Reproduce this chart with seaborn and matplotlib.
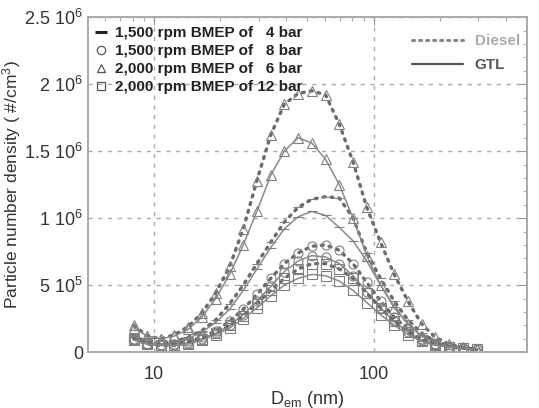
import numpy as np
import pandas as pd
import seaborn as sns
import matplotlib.pyplot as plt
from matplotlib.lines import Line2D

# mobility diameter channels (nm)
diam = [8.1, 9.3, 10.8, 12.4, 14.3, 16.5, 19.1, 22.1, 25.5, 29.4, 34.0, 39.2, 45.3,
        52.3, 60.4, 69.8, 80.6, 93.1, 107.5, 124.1, 143.3, 165.5, 191.1, 220.7, 254.8, 294.2]

# number densities, units of 1e6 #/cm3
diesel_1500_4 = [0.12, 0.08, 0.07, 0.08, 0.11, 0.16, 0.24, 0.36, 0.50, 0.66, 0.82, 0.97, 1.08,
                 1.14, 1.16, 1.15, 1.00, 0.74, 0.55, 0.38, 0.24, 0.14, 0.08, 0.05, 0.03, 0.02]
gtl_1500_4 = [0.11, 0.07, 0.06, 0.07, 0.10, 0.15, 0.22, 0.32, 0.46, 0.62, 0.78, 0.92, 1.01,
              1.05, 1.02, 0.93, 0.83, 0.68, 0.50, 0.34, 0.21, 0.12, 0.07, 0.04, 0.03, 0.02]
diesel_1500_8 = [0.10, 0.06, 0.05, 0.06, 0.08, 0.11, 0.16, 0.23, 0.32, 0.43, 0.55, 0.66, 0.74,
                 0.79, 0.80, 0.76, 0.66, 0.52, 0.38, 0.26, 0.17, 0.10, 0.06, 0.04, 0.03, 0.02]
gtl_1500_8 = [0.09, 0.06, 0.05, 0.05, 0.07, 0.10, 0.14, 0.20, 0.28, 0.38, 0.49, 0.60, 0.68,
              0.72, 0.71, 0.66, 0.57, 0.45, 0.33, 0.23, 0.15, 0.09, 0.06, 0.04, 0.03, 0.02]
diesel_2000_6 = [0.20, 0.12, 0.10, 0.13, 0.19, 0.29, 0.44, 0.64, 0.92, 1.28, 1.62, 1.85, 1.93,
                 1.95, 1.92, 1.70, 1.42, 1.08, 0.82, 0.58, 0.38, 0.21, 0.11, 0.06, 0.035, 0.02]
gtl_2000_6 = [0.18, 0.12, 0.10, 0.12, 0.17, 0.26, 0.40, 0.58, 0.80, 1.05, 1.32, 1.50, 1.60,
              1.56, 1.44, 1.25, 1.00, 0.72, 0.50, 0.33, 0.21, 0.12, 0.07, 0.04, 0.03, 0.02]
diesel_2000_12 = [0.10, 0.07, 0.05, 0.05, 0.07, 0.10, 0.14, 0.20, 0.27, 0.36, 0.46, 0.55, 0.62,
                  0.66, 0.66, 0.62, 0.55, 0.44, 0.33, 0.23, 0.15, 0.09, 0.06, 0.04, 0.03, 0.02]
gtl_2000_12 = [0.09, 0.06, 0.05, 0.05, 0.06, 0.09, 0.13, 0.18, 0.25, 0.33, 0.42, 0.50, 0.55,
               0.58, 0.57, 0.53, 0.46, 0.37, 0.28, 0.20, 0.13, 0.08, 0.05, 0.04, 0.03, 0.02]

conditions = ["1,500 rpm BMEP of   4 bar", "1,500 rpm BMEP of   8 bar",
              "2,000 rpm BMEP of   6 bar", "2,000 rpm BMEP of 12 bar"]
markers = ["_", "o", "^", "s"]
diesel = [diesel_1500_4, diesel_1500_8, diesel_2000_6, diesel_2000_12]
gtl = [gtl_1500_4, gtl_1500_8, gtl_2000_6, gtl_2000_12]

yticks = [0, 5e5, 1e6, 1.5e6, 2e6, 2.5e6]
ytick_labels = ["0", "5 10$^5$", "1 10$^6$", "1.5 10$^6$", "2 10$^6$", "2.5 10$^6$"]

sns.set_style("white")
plt.rcParams["font.family"] = ["Liberation Sans", "DejaVu Sans"]
plt.rcParams["mathtext.default"] = "regular"

fig = plt.figure(figsize=(5.39, 4.08), dpi=100)
ax = fig.add_axes([0.163, 0.137, 0.815, 0.821])

for i in range(4):
    sns.lineplot(x=diam, y=np.array(diesel[i]) * 1e6, ax=ax, color="#6a6a6a",
                 linestyle=(0, (0.6, 1.8)), linewidth=2.4, marker=markers[i],
                 markersize=6.5, markerfacecolor="none", markeredgecolor="#808080",
                 markeredgewidth=0.8, dash_capstyle="round", estimator=None, sort=False)
    sns.lineplot(x=diam, y=np.array(gtl[i]) * 1e6, ax=ax, color="#8a8a8a",
                 linestyle="-", linewidth=1.1, marker=markers[i],
                 markersize=6.5, markerfacecolor="none", markeredgecolor="#808080",
                 markeredgewidth=0.8, estimator=None, sort=False)

ax.set_xscale("log")
ax.set_xlim(5, 500)
ax.set_ylim(0, 2.5e6)
ax.set_xticks([10, 100], ["10", "100"])
ax.set_yticks(yticks, ytick_labels)
ax.set_yticks(np.arange(0, 2.5e6, 1e5), minor=True)
ax.tick_params(axis="both", which="both", direction="in", top=True, right=True,
               color="#999999", labelsize=13, labelcolor="#333333")
ax.tick_params(which="major", length=6)
ax.tick_params(which="minor", length=3)
ax.tick_params(axis="x", pad=10)
for s in ax.spines.values():
    s.set_color("#aaaaaa")
    s.set_linewidth(1.4)
ax.grid(True, which="major", color="#aaaaaa", linestyle=(0, (3, 4)), linewidth=1)

ax.set_ylabel("Particle number density ( #/cm$^3$)", fontsize=12.5, color="#333333", labelpad=1)
ax.set_xlabel("D$_{em}$ (nm)", fontsize=13, color="#333333", labelpad=4)

cond_handles = [Line2D([], [], linestyle="none", marker=m, markersize=6 if m != "_" else 8,
                       markerfacecolor="none", markeredgecolor="#555555" if m != "_" else "#222222",
                       markeredgewidth=0.9 if m != "_" else 2.2) for m in markers]
leg1 = ax.legend(cond_handles, conditions, loc="upper left", bbox_to_anchor=(-0.005, 1.0),
                 frameon=False, prop={"weight": "bold", "size": 11}, handlelength=0.8,
                 handletextpad=0.5, labelspacing=0.26, borderaxespad=0.2)
for t in leg1.get_texts():
    t.set_color("#222222")
ax.add_artist(leg1)

fuel_handles = [Line2D([], [], color="#888888", linestyle=(0, (0.7, 1.6)), linewidth=2.2,
                       dash_capstyle="round"),
                Line2D([], [], color="#555555", linestyle="-", linewidth=1.6)]
leg2 = ax.legend(fuel_handles, ["Diesel", "GTL"], loc="upper right", bbox_to_anchor=(1.015, 0.99),
                 frameon=False, prop={"weight": "bold", "size": 11}, handlelength=3.3,
                 handletextpad=0.8, labelspacing=0.65)
leg2.get_texts()[0].set_color("#aaaaaa")
leg2.get_texts()[1].set_color("#555555")

fig.savefig("out.png", dpi=100)
